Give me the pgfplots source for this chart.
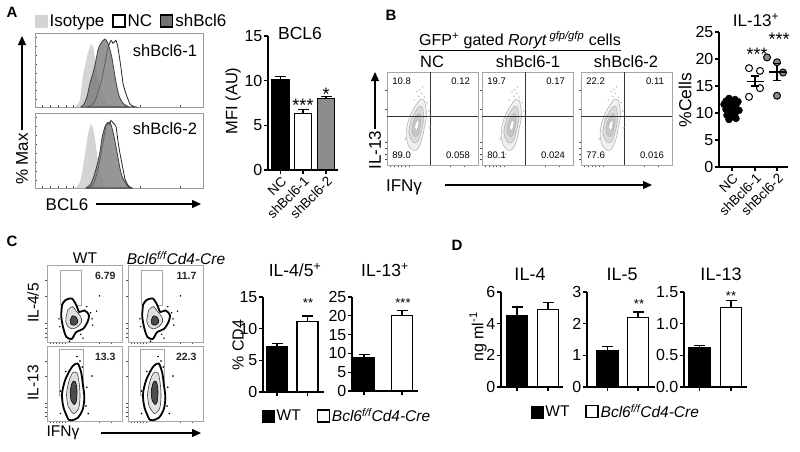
\documentclass[border=0pt]{standalone}
\usepackage{fontspec}
\setmainfont{Liberation Sans}
\usepackage{pgfplots}
\usepackage{pgfplotstable}
\pgfplotsset{compat=1.18}
\usetikzlibrary{arrows.meta}
\definecolor{isogray}{gray}{0.83}
\definecolor{shgray}{gray}{0.45}
\definecolor{midgray}{gray}{0.55}
\newcommand{\fs}[1]{\fontsize{#1}{#1}\selectfont}

% ---- panel B contour levels (relative units 0-100) ----
\pgfplotstableread{
x y
28 16
23 22
21 32
22 42
25 52
29 60
33 66
37 71
41 69
43 60
43 50
41 40
39 30
36 21
32 16
28 16
}\BLa
\pgfplotstableread{
x y
29 24
26 28
24 35
25 42
27 50
30 55
33 60
36 63
39 62
40 55
40 48
39 41
37 34
35 27
32 24
29 24
}\BLb
\pgfplotstableread{
x y
30.7 30.8
28.5 33.5
27.6 38
28 42.5
29.4 47
31.2 50.7
33 53.4
34.8 55.6
36.6 54.7
37.5 50.7
37.5 46.2
36.6 41.6
35.7 37.1
34.4 33.1
32.5 30.8
30.7 30.8
}\BLc
\pgfplotstableread{
x y
32 37.6
31 38.8
30.6 40.8
30.8 42.8
31.4 44.8
32.2 46.4
33 47.6
33.8 48.6
34.6 48.2
35 46.4
35 44.4
34.6 42.4
34.2 40.4
33.6 38.6
32.8 37.6
32 37.6
}\BLd
\pgfplotstableread{
x y
35 74
38 77
41 73
33 79
36 81
44 67
30 70
39 84
46 58
20 28
47 40
26 12
}\BD
% ---- panel C contours ----
\pgfplotstableread{
x y
20 48
24 54
33 56.5
39 48
43 39
50 41
56 35
54 26
48 17
39 13
33 4
26 6.5
22 17
19 33
20 48
}\CTa
\pgfplotstableread{
x y
26 34
28 42
34 46
39 40
45 33
46 26
41 20
34 17
28 20
25 27
26 34
}\CTb
\pgfplotstableread{
x y
31 28
34 34
39 32
41 26
37 22
32 23
31 28
}\CTc
\pgfplotstableread{
x y
58 38
60 30
16 30
17 20
53 46
45 10
30 1
61 22
22 52
48 5
66 40
70 60
}\CTd
\pgfplotstableread{
x y
28.5 2
22 18
20 36
24 54
30.5 67.6
35 74
41 76.6
45.5 65
47.7 49.5
49.8 31.5
47.7 15.8
41.3 4.5
33 1
28.5 2
}\CBa
\pgfplotstableread{
x y
28 20
26 35
29 52
34 64
40 64
43 50
44 32
42 16
35 10
28 20
}\CBb
\pgfplotstableread{
x y
32 28
31 40
34 52
38 52
40 40
39 26
36 22
32 28
}\CBc
\pgfplotstableread{
x y
18 10
52 20
53 45
47 72
44 80
18 40
25 66
55 10
60 60
40 86
}\CBd

\pgfplotsset{
  every axis/.append style={/pgf/number format/assume math mode=true},
  sqlegend/.style={legend image code/.code={\draw[##1] (0pt,-6pt) rectangle (12pt,6pt);}},
  histo/.style={scale only axis, xmin=35, xmax=203, ymin=0, ymax=100, enlargelimits=false,
    axis line style={gray!80, line width=0.6pt},
    xtick={42,50,58,66,73,80,88,96,140,180}, ytick={10,22,34,46,58,70,82,94},
    xticklabels={}, yticklabels={}, tick align=inside, major tick length=2pt,
    tick style={gray!60!black, line width=0.5pt}, xtick pos=bottom, ytick pos=left},
  barax/.style={scale only axis, axis x line*=bottom, axis y line*=left, ymin=0, enlargelimits=false,
    axis line style={line width=1.1pt, black}, tick style={line width=1.1pt, black},
    tick align=outside, major tick length=4pt, tick label style={font=\fs{16}},
    yticklabel style={inner sep=1.5pt}, xticklabels={}, clip=false},
  rotlab/.style={xticklabel style={rotate=45, anchor=north east, font=\fs{13.5}, inner sep=1pt}},
  flow/.style={scale only axis, xmin=0, xmax=100, ymin=0, ymax=100, enlargelimits=false,
    axis line style={gray!70, line width=0.6pt}, xticklabels={}, yticklabels={},
    xtick={4,8,12,16,20,24,70,85}, ytick={6,12,18,24,60,80},
    tick align=outside, major tick length=2pt, tick style={gray!60!black, line width=0.5pt},
    xtick pos=bottom, ytick pos=left},
}
% bar with upper error whisker: [bar width]{x}{value}{value+error}{fill}
\newcommand{\ebar}[5][21pt]{%
  \addplot[ybar, bar shift=0pt, bar width=#1, draw=black, line width=1.1pt, fill=#5] coordinates {(#2,#3)};
  \addplot[black, line width=1.1pt] coordinates {(#2,#3)(#2,#4)};
  \addplot[black, only marks, mark=-, mark size=5.5pt, mark options={line width=1.1pt}] coordinates {(#2,#4)};
}
% mean and SEM: {x}{mean}{low}{high}
\newcommand{\msem}[4]{%
  \addplot[black, line width=1.1pt] coordinates {(#1,#3)(#1,#4)};
  \addplot[black, only marks, mark=-, mark size=4pt, mark options={line width=1.1pt}] coordinates {(#1,#3)(#1,#4)};
  \addplot[black, only marks, mark=-, mark size=8.5pt, mark options={line width=1.1pt}] coordinates {(#1,#2)};
}

\begin{document}
\begin{tikzpicture}
\fill[white] (0pt,0pt) rectangle (800pt,-451pt);
\path[use as bounding box] (0pt,0pt) rectangle (800pt,-451pt);

%================ PANEL A =================
\node[font=\fs{15}\bfseries] at (12pt,-12pt) {A};

\begin{axis}[histo, at={(35pt,-107pt)}, anchor=south west, width=168pt, height=74pt,
  legend style={draw=none, fill=none, at={(0,1.162)}, anchor=west, legend columns=-1,
    font=\fs{17}, inner sep=0pt, /tikz/every even column/.append style={column sep=6pt}}]
\addlegendimage{sqlegend, fill=isogray, draw=isogray}\addlegendentry{Isotype}
\addlegendimage{sqlegend, fill=white, draw=black, line width=1.2pt}\addlegendentry{NC}
\addlegendimage{sqlegend, fill=shgray, draw=black, line width=1.2pt}\addlegendentry{shBcl6}
\addplot[fill=isogray, draw=none, smooth, tension=0.3] coordinates {(74,0)(77,2)(80,10)(83,43)(85,55)(87,68)(89,78)(91,85)(93,82)(95,66)(98,39)(100,27)(102,19)(105,10)(107,5)(110,2)(113,0)} \closedcycle;
\addplot[fill=white, fill opacity=0.5, draw=black!85, line width=0.8pt, smooth, tension=0.3] coordinates {(88,0)(92,3)(95,8)(97,16)(100,28)(102,39)(105,59)(108,80)(111,90)(113,86)(116,90)(118,80)(121,53)(123,32)(125,22)(127,14)(130,4)(133,1)(136,0)} \closedcycle;
\addplot[fill=shgray, fill opacity=0.75, draw=black!75, line width=0.8pt, smooth, tension=0.3] coordinates {(81,0)(84,4)(87,14)(90,32)(93,46)(95,57)(98,77)(100,84)(102,88)(105,92)(108,86)(110,77)(112,66)(115,41)(118,20)(120,12)(123,5)(126,2)(129,0)} \closedcycle;
\end{axis}
\node[font=\fs{16.5}] at (165pt,-51pt) {shBcl6-1};

\begin{axis}[histo, at={(35pt,-188pt)}, anchor=south west, width=168pt, height=75pt]
\addplot[fill=isogray, draw=none, smooth, tension=0.3] coordinates {(74,0)(77,2)(80,8)(82,20)(85,45)(88,72)(90,82)(91,85)(93,80)(95,66)(98,35)(100,24)(102,14)(104,8)(106,3)(110,0)} \closedcycle;
\addplot[fill=white, fill opacity=0.5, draw=black!85, line width=0.8pt, smooth, tension=0.3] coordinates {(88,0)(92,3)(95,10)(98,25)(101,45)(103,60)(106,83)(108,87)(109,84)(111,90)(113,87)(116,82)(118,62)(120,46)(122,32)(125,12)(127,6)(129,2)(132,0)} \closedcycle;
\addplot[fill=shgray, fill opacity=0.75, draw=black!75, line width=0.8pt, smooth, tension=0.3] coordinates {(86,0)(90,4)(93,12)(97,30)(100,48)(102,67)(105,82)(107,86)(110,88)(113,75)(115,62)(117,48)(120,26)(122,16)(125,8)(128,2)(131,0)} \closedcycle;
\end{axis}
\node[font=\fs{16.5}] at (165pt,-129pt) {shBcl6-2};

\node[font=\fs{17}, rotate=90] at (22pt,-159pt) {\% Max};
\draw[line width=1.3pt, -{Triangle[length=9pt,width=8pt]}] (22pt,-130pt) -- (22pt,-36pt);
\node[font=\fs{17}] at (67pt,-205pt) {BCL6};
\draw[line width=1.3pt, -{Triangle[length=9pt,width=8pt]}] (96pt,-204pt) -- (201pt,-204pt);

\begin{axis}[barax, rotlab, at={(268pt,-170pt)}, anchor=south west, width=70pt, height=134pt,
  xmin=268, xmax=338, ymax=15, ytick={0,5,10,15}, xtick={280.5,303,326},
  xticklabels={NC,shBcl6-1,shBcl6-2}]
\ebar[17pt]{280.5}{10.1}{10.5}{black}
\ebar[17pt]{303}{6.35}{6.8}{white}
\ebar[17pt]{326}{8.0}{8.2}{midgray}
\end{axis}
\node[font=\fs{17.5}] at (300pt,-33pt) {BCL6};
\node[font=\fs{16.5}, rotate=90] at (233pt,-101pt) {MFI (AU)};
\node[font=\fs{18}, anchor=base] at (303pt,-111pt) {***};
\node[font=\fs{18}, anchor=base] at (326pt,-100pt) {*};

%================ PANEL B =================
\node[font=\fs{15}\bfseries] at (391pt,-15pt) {B};
\node[font=\fs{16}] at (520pt,-41pt) {\underline{GFP\textsuperscript{+} gated \textit{Roryt}\,\textsuperscript{\textit{gfp/gfp}} cells}};
\node[font=\fs{16.5}] at (432pt,-62pt) {NC};
\node[font=\fs{16.5}] at (528pt,-62pt) {shBcl6-1};
\node[font=\fs{16.5}] at (626pt,-62pt) {shBcl6-2};

\begin{axis}[flow, at={(387pt,-165pt)}, anchor=south west, width=91pt, height=93pt]
\addplot[only marks, mark=*, mark size=0.5pt, gray!55] table {\BD};
\addplot[fill=gray!12, draw=gray!65, line width=0.5pt, smooth] table {\BLa};
\addplot[fill=gray!28, draw=gray!65, line width=0.5pt, smooth] table {\BLb};
\addplot[fill=gray!45, draw=gray!60, line width=0.5pt, smooth] table {\BLc};
\addplot[fill=white, draw=gray!60, line width=0.5pt, smooth] table {\BLd};
\addplot[gray!40!black, line width=0.7pt] coordinates {(48,0)(48,100)};
\addplot[gray!40!black, line width=0.7pt] coordinates {(0,52)(100,52)};
\node[anchor=west, font=\fs{9.5}] at (rel axis cs:0.02,0.9) {10.8};
\node[anchor=east, font=\fs{9.5}] at (rel axis cs:0.95,0.9) {0.12};
\node[anchor=west, font=\fs{9.5}] at (rel axis cs:0.02,0.1) {89.0};
\node[anchor=east, font=\fs{9.5}] at (rel axis cs:0.95,0.1) {0.058};
\end{axis}

\begin{axis}[flow, at={(482pt,-165pt)}, anchor=south west, width=91pt, height=93pt]
\addplot[only marks, mark=*, mark size=0.5pt, gray!55] table {\BD};
\addplot[fill=gray!12, draw=gray!65, line width=0.5pt, smooth] table {\BLa};
\addplot[fill=gray!28, draw=gray!65, line width=0.5pt, smooth] table {\BLb};
\addplot[fill=gray!45, draw=gray!60, line width=0.5pt, smooth] table {\BLc};
\addplot[fill=white, draw=gray!60, line width=0.5pt, smooth] table {\BLd};
\addplot[gray!40!black, line width=0.7pt] coordinates {(48,0)(48,100)};
\addplot[gray!40!black, line width=0.7pt] coordinates {(0,52)(100,52)};
\node[anchor=west, font=\fs{9.5}] at (rel axis cs:0.02,0.9) {19.7};
\node[anchor=east, font=\fs{9.5}] at (rel axis cs:0.95,0.9) {0.17};
\node[anchor=west, font=\fs{9.5}] at (rel axis cs:0.02,0.1) {80.1};
\node[anchor=east, font=\fs{9.5}] at (rel axis cs:0.95,0.1) {0.024};
\end{axis}

\begin{axis}[flow, at={(581pt,-165pt)}, anchor=south west, width=91pt, height=93pt]
\addplot[only marks, mark=*, mark size=0.5pt, gray!55] table {\BD};
\addplot[fill=gray!12, draw=gray!65, line width=0.5pt, smooth] table {\BLa};
\addplot[fill=gray!28, draw=gray!65, line width=0.5pt, smooth] table {\BLb};
\addplot[fill=gray!45, draw=gray!60, line width=0.5pt, smooth] table {\BLc};
\addplot[fill=white, draw=gray!60, line width=0.5pt, smooth] table {\BLd};
\addplot[gray!40!black, line width=0.7pt] coordinates {(48,0)(48,100)};
\addplot[gray!40!black, line width=0.7pt] coordinates {(0,52)(100,52)};
\node[anchor=west, font=\fs{9.5}] at (rel axis cs:0.02,0.9) {22.2};
\node[anchor=east, font=\fs{9.5}] at (rel axis cs:0.95,0.9) {0.11};
\node[anchor=west, font=\fs{9.5}] at (rel axis cs:0.02,0.1) {77.6};
\node[anchor=east, font=\fs{9.5}] at (rel axis cs:0.95,0.1) {0.016};
\end{axis}

\node[font=\fs{17}, rotate=90] at (375pt,-150pt) {IL-13};
\draw[line width=1.3pt, -{Triangle[length=9pt,width=8pt]}] (375pt,-129pt) -- (375pt,-72pt);
\node[font=\fs{17}] at (404pt,-187pt) {IFNγ};
\draw[line width=1.3pt, -{Triangle[length=9pt,width=8pt]}] (445pt,-185pt) -- (652pt,-185pt);

\begin{axis}[barax, rotlab, at={(719pt,-167pt)}, anchor=south west, width=69pt, height=135pt,
  xmin=719, xmax=788, ymax=25, ytick={0,5,10,15,20,25}, xtick={732,755,777},
  xticklabels={NC,shBcl6-1,shBcl6-2}]
\addplot[only marks, mark=*, mark size=3.5pt, black] coordinates {(729,12.7)(735,12.5)(726,12.2)(738,12.1)(731,11.9)(724,11.6)(736,11.5)(729,11.2)(733,10.9)(726,10.7)(739,10.5)(730,10.2)(735,9.9)(727,9.6)(732,9.3)(736,9.0)(729,8.8)};
\addplot[only marks, mark=*, mark size=3.5pt, mark options={fill=white, draw=black, line width=1pt}] coordinates {(749,18.3)(760,17.8)(749,13.0)(760,14.6)};
\addplot[only marks, mark=*, mark size=3.5pt, mark options={fill=midgray, draw=black, line width=1pt}] coordinates {(767,20.3)(777,19.4)(783,17.5)(777,13.2)};
\msem{732}{10.8}{10.5}{11.1}
\msem{755}{15.9}{15.0}{16.85}
\msem{777}{17.6}{16.1}{19.2}
\end{axis}
\node[font=\fs{17}] at (756pt,-20pt) {IL-13\textsuperscript{+}};
\node[font=\fs{17.5}, rotate=90] at (685pt,-100pt) {\%Cells};
\node[font=\fs{18}, anchor=base] at (757pt,-60pt) {***};
\node[font=\fs{18}, anchor=base] at (779pt,-45pt) {***};

%================ PANEL C =================
\node[font=\fs{15}\bfseries] at (12pt,-241pt) {C};
\node[font=\fs{15.5}] at (85pt,-258pt) {WT};
\node[font=\fs{15.5}] at (176pt,-258pt) {\textit{Bcl6\textsuperscript{f/f}Cd4-Cre}};

\begin{axis}[flow, at={(47pt,-342pt)}, anchor=south west, width=75pt, height=77pt]
\addplot[gray!70, line width=0.6pt] coordinates {(18,48)(18,93)(46,93)(46,48)(18,48)};
\addplot[only marks, mark=*, mark size=0.5pt, black] table {\CTd};
\addplot[fill=white, draw=black, line width=1.8pt, smooth] table {\CTa};
\addplot[fill=gray!25, draw=gray!50!black, line width=0.6pt, smooth] table {\CTb};
\addplot[fill=gray!60!black, draw=black, line width=0.6pt, smooth] table {\CTc};
\node[anchor=east, font=\fs{10.5}\bfseries, text=gray!30!black] at (rel axis cs:0.96,0.86) {6.79};
\end{axis}
\begin{axis}[flow, at={(128pt,-342pt)}, anchor=south west, width=75pt, height=77pt]
\addplot[gray!70, line width=0.6pt] coordinates {(18,48)(18,93)(46,93)(46,48)(18,48)};
\addplot[only marks, mark=*, mark size=0.5pt, black] table {\CTd};
\addplot[fill=white, draw=black, line width=1.8pt, smooth] table {\CTa};
\addplot[fill=gray!25, draw=gray!50!black, line width=0.6pt, smooth] table {\CTb};
\addplot[fill=gray!60!black, draw=black, line width=0.6pt, smooth] table {\CTc};
\node[anchor=east, font=\fs{10.5}\bfseries, text=gray!30!black] at (rel axis cs:0.96,0.86) {11.7};
\end{axis}
\begin{axis}[flow, at={(47pt,-421pt)}, anchor=south west, width=75pt, height=75pt]
\addplot[gray!70, line width=0.6pt] coordinates {(17,34)(17,95)(48,95)(48,34)(17,34)};
\addplot[only marks, mark=*, mark size=0.5pt, black] table {\CBd};
\addplot[fill=white, draw=black, line width=1.8pt, smooth] table {\CBa};
\addplot[fill=gray!25, draw=gray!50!black, line width=0.6pt, smooth] table {\CBb};
\addplot[fill=gray!60!black, draw=black, line width=0.6pt, smooth] table {\CBc};
\node[anchor=east, font=\fs{10.5}\bfseries, text=gray!30!black] at (rel axis cs:0.96,0.86) {13.3};
\end{axis}
\begin{axis}[flow, at={(128pt,-421pt)}, anchor=south west, width=75pt, height=75pt]
\addplot[gray!70, line width=0.6pt] coordinates {(17,34)(17,95)(48,95)(48,34)(17,34)};
\addplot[only marks, mark=*, mark size=0.5pt, black] table {\CBd};
\addplot[fill=white, draw=black, line width=1.8pt, smooth] table {\CBa};
\addplot[fill=gray!25, draw=gray!50!black, line width=0.6pt, smooth] table {\CBb};
\addplot[fill=gray!60!black, draw=black, line width=0.6pt, smooth] table {\CBc};
\node[anchor=east, font=\fs{10.5}\bfseries, text=gray!30!black] at (rel axis cs:0.96,0.86) {22.3};
\end{axis}
\node[font=\fs{15.5}, rotate=90] at (33pt,-303pt) {IL-4/5};
\node[font=\fs{15.5}, rotate=90] at (33pt,-383pt) {IL-13};
\node[font=\fs{15.5}] at (63pt,-433pt) {IFNγ};
\draw[line width=1.3pt, -{Triangle[length=9pt,width=8pt]}] (101pt,-433pt) -- (201pt,-433pt);

\begin{axis}[barax, at={(263pt,-392pt)}, anchor=south west, width=61pt, height=95pt,
  xmin=263, xmax=324, ymax=15, ytick={0,5,10,15}, xtick={277,307.5},
  legend style={draw=none, fill=none, at={(-0.016,-0.253)}, anchor=west, legend columns=-1,
    font=\fs{15.5}, inner sep=0pt, /tikz/every even column/.append style={column sep=14pt}}]
\addlegendimage{sqlegend, fill=black, draw=black}\addlegendentry{WT}
\addlegendimage{sqlegend, fill=white, draw=black, line width=1.2pt}\addlegendentry{\textit{Bcl6\textsuperscript{f/f}Cd4-Cre}}
\ebar{277}{7.25}{7.7}{black}
\ebar{307.5}{11.1}{12.0}{white}
\end{axis}
\begin{axis}[barax, at={(352pt,-391pt)}, anchor=south west, width=66pt, height=94pt,
  xmin=352, xmax=418, ymax=25, ytick={0,5,10,15,20,25}, xtick={364,402}]
\ebar{364}{9.0}{9.8}{black}
\ebar{402}{20.0}{21.5}{white}
\end{axis}
\node[font=\fs{17.5}] at (295pt,-270pt) {IL-4/5\textsuperscript{+}};
\node[font=\fs{17.5}] at (385pt,-270pt) {IL-13\textsuperscript{+}};
\node[font=\fs{16}, rotate=90] at (238pt,-345pt) {\% CD4};
\node[font=\fs{13}, anchor=base] at (308pt,-307pt) {**};
\node[font=\fs{13}, anchor=base] at (403pt,-307.5pt) {***};

%================ PANEL D =================
\node[font=\fs{15}\bfseries] at (457pt,-245pt) {D};
\begin{axis}[barax, at={(501pt,-387pt)}, anchor=south west, width=62pt, height=95pt,
  xmin=501, xmax=563, ymax=6, ytick={0,2,4,6}, xtick={517,548},
  legend style={draw=none, fill=none, at={(0.48,-0.26)}, anchor=west, legend columns=-1,
    font=\fs{15.5}, inner sep=0pt, /tikz/every even column/.append style={column sep=14pt}}]
\addlegendimage{sqlegend, fill=black, draw=black}\addlegendentry{WT}
\addlegendimage{sqlegend, fill=white, draw=black, line width=1.2pt}\addlegendentry{\textit{Bcl6\textsuperscript{f/f}Cd4-Cre}}
\ebar{517}{4.53}{5.05}{black}
\ebar{548}{4.89}{5.31}{white}
\end{axis}
\begin{axis}[barax, at={(587pt,-387pt)}, anchor=south west, width=68pt, height=95pt,
  xmin=587, xmax=655, ymax=3, ytick={0,1,2,3}, xtick={607.5,638}]
\ebar{607.5}{1.14}{1.28}{black}
\ebar{638}{2.19}{2.37}{white}
\end{axis}
\begin{axis}[barax, at={(684pt,-387pt)}, anchor=south west, width=63pt, height=95pt,
  xmin=684, xmax=747, ymax=1.5, ytick={0,0.5,1,1.5}, yticklabels={0.0,0.5,1.0,1.5},
  xtick={699.5,731}]
\ebar{699.5}{0.62}{0.65}{black}
\ebar{731}{1.25}{1.36}{white}
\end{axis}
\node[font=\fs{18}] at (530pt,-274pt) {IL-4};
\node[font=\fs{18}] at (622pt,-274pt) {IL-5};
\node[font=\fs{18}] at (721pt,-274pt) {IL-13};
\node[font=\fs{16}, rotate=90] at (478pt,-337pt) {ng ml\textsuperscript{-1}};
\node[font=\fs{13}, anchor=base] at (639pt,-308pt) {**};
\node[font=\fs{13}, anchor=base] at (731pt,-300pt) {**};
\end{tikzpicture}
\end{document}
